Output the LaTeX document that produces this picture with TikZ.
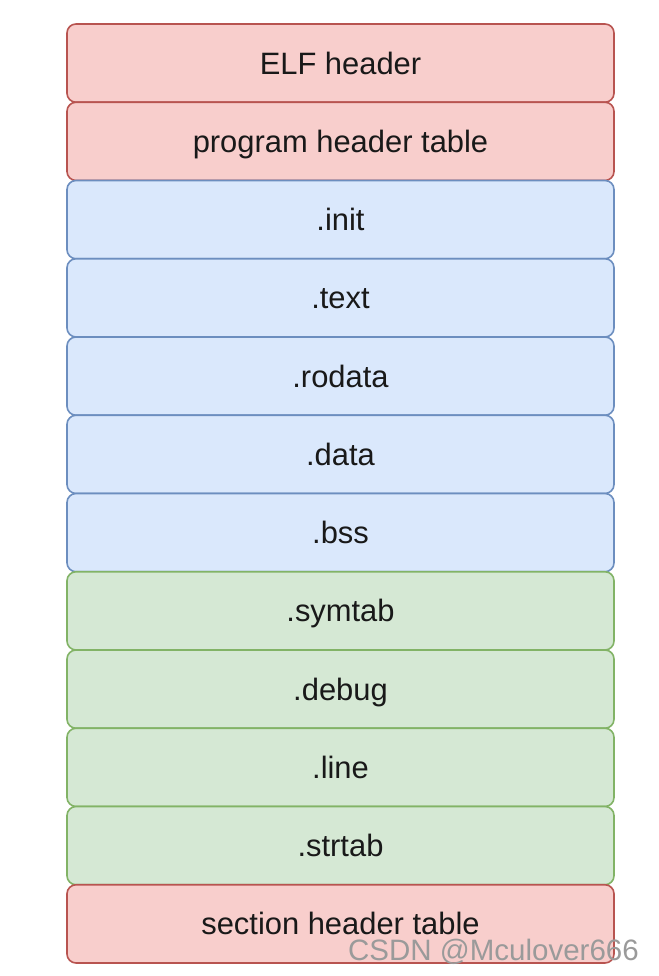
\documentclass[tikz,border=0pt]{standalone}
\usepackage{fontspec}
\setmainfont{Liberation Sans}
\definecolor{rfill}{HTML}{F8CECC}\definecolor{rdraw}{HTML}{B85450}
\definecolor{bfill}{HTML}{DAE8FC}\definecolor{bdraw}{HTML}{6C8EBF}
\definecolor{gfill}{HTML}{D5E8D4}\definecolor{gdraw}{HTML}{82B366}
\definecolor{wmark}{HTML}{9A9A9A}
\tikzset{
  seg/.style={rectangle, rounded corners=9pt, line width=1.6pt, minimum width=547pt, minimum height=78.25pt, inner sep=0pt, text height=22pt, text depth=0pt, font=\fontsize{30.9}{36}\selectfont, text=black!90},
  redseg/.style={seg, fill=rfill, draw=rdraw},
  blueseg/.style={seg, fill=bfill, draw=bdraw},
  greenseg/.style={seg, fill=gfill, draw=gdraw},
}
\begin{document}
\begin{tikzpicture}[x=1pt,y=1pt]
\useasboundingbox (0,0) rectangle (658,976);
\def\cx{340.5}
\node[redseg]   (elf)  at (\cx,{976-24-0.5*78.25}) {ELF header};
\node[redseg]   (pht)  at (\cx,{976-24-1.5*78.25}) {program header table};
\node[blueseg]  (init) at (\cx,{976-24-2.5*78.25}) {.init};
\node[blueseg]  (text) at (\cx,{976-24-3.5*78.25}) {.text};
\node[blueseg]  (rod)  at (\cx,{976-24-4.5*78.25}) {.rodata};
\node[blueseg]  (data) at (\cx,{976-24-5.5*78.25}) {.data};
\node[blueseg]  (bss)  at (\cx,{976-24-6.5*78.25}) {.bss};
\node[greenseg] (sym)  at (\cx,{976-24-7.5*78.25}) {.symtab};
\node[greenseg] (dbg)  at (\cx,{976-24-8.5*78.25}) {.debug};
\node[greenseg] (line) at (\cx,{976-24-9.5*78.25}) {.line};
\node[greenseg] (str)  at (\cx,{976-24-10.5*78.25}) {.strtab};
\node[redseg]   (sht)  at (\cx,{976-24-11.5*78.25}) {section header table};
\node[anchor=base east, inner sep=0pt, text=wmark, font=\fontsize{29.5}{34}\selectfont] (wm) at (639,16) {CSDN @Mculover666};
\end{tikzpicture}
\end{document}
